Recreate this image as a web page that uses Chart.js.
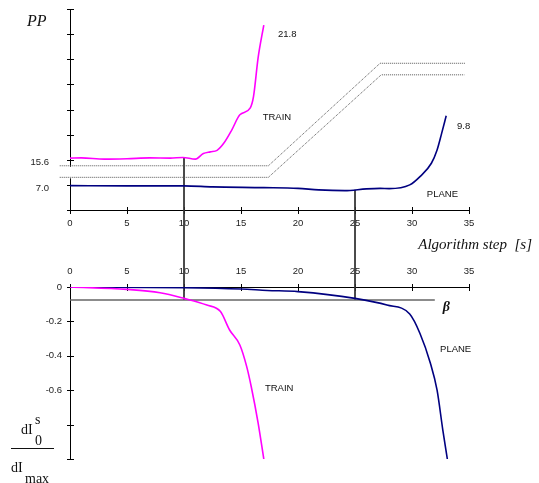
<!DOCTYPE html>
<html>
<head>
<meta charset="utf-8">
<script src="https://cdn.jsdelivr.net/npm/chart.js@4.4.0/dist/chart.umd.min.js"></script>
<style>
  body { margin: 0; background: #fff; }
  #wrap { position: relative; width: 539px; height: 483px; }
  canvas { position: absolute; left: 0; }
</style>
</head>
<body>
<div id="wrap">
  <canvas id="top" width="539" height="235" style="top:0"></canvas>
  <canvas id="bottom" width="539" height="248" style="top:235px"></canvas>
</div>
<script>
// upper panel: PP against algorithm step
const trainStep = [0, 1, 3, 5, 7, 8.8, 9.9, 11, 11.7, 12.3, 12.9, 13.5, 14.2, 14.9, 15.8, 16.1, 16.5, 17];
const trainPP = [15.6, 15.61, 15.55, 15.57, 15.61, 15.6, 15.63, 15.55, 15.81, 15.89, 15.96, 16.3, 16.92, 17.62, 17.93, 18.48, 20.27, 21.8];
const planeStep = [0, 5, 10, 12.5, 17, 20, 21.8, 24.1, 26, 27.2, 28, 29.8, 30.7, 31.7, 32.2, 32.6, 33];
const planePP = [6.97, 6.96, 6.96, 6.92, 6.89, 6.86, 6.8, 6.77, 6.84, 6.86, 6.85, 7.0, 7.33, 7.86, 8.39, 9.05, 9.75];
const ppTickLabels = { 7: '7.0', 8: '15.6' };

// broken axis marks (dotted)
const breakHighStep = [-0.9, 17.4, 27.2, 34.7];
const breakHigh = [7.76, 7.76, 11.84, 11.84];
const breakLowStep = [-0.9, 17.4, 27.3, 34.6];
const breakLow = [7.3, 7.3, 11.38, 11.38];

// lower panel: dI0s / dImax
const trainDIStep = [0, 5, 7.9, 10, 12, 13.2, 14, 14.9, 15.5, 15.9, 16.5, 17];
const trainDI = [0, -0.014, -0.033, -0.066, -0.105, -0.143, -0.25, -0.337, -0.463, -0.58, -0.79, -1.0];
const planeDIStep = [0, 10, 15, 17.3, 20, 25, 27.8, 29.8, 30.7, 31.6, 32.2, 32.7, 33.1];
const planeDI = [0, -0.004, -0.012, -0.02, -0.027, -0.066, -0.105, -0.157, -0.27, -0.44, -0.6, -0.83, -1.0];
const beta = -0.075;
const betaEnd = 32;
const diTickLabels = ['0', '-0.2', '-0.4', '-0.6'];

// instants linked across both panels
const markSteps = [10, 25];
const markPP = [15.65, 6.8];
const markAxis = ['yT', 'y'];

const pts = (xs, ys) => xs.map((x, i) => ({ x: x, y: ys[i] }));

Chart.defaults.font.family = '"Liberation Sans", Arial, sans-serif';
Chart.defaults.font.size = 9.5;
Chart.defaults.color = '#222';

const small = '9.5px "Liberation Sans", Arial, sans-serif';

const curve = (data, color, axis) => ({
    data: data, yAxisID: axis, borderColor: color, borderWidth: 1.6,
    pointRadius: 0, fill: false, cubicInterpolationMode: 'monotone'
});
const rule = (data, color, axis, dash, width) => ({
    data: data, yAxisID: axis, borderColor: color, borderWidth: width || 1,
    borderDash: dash || [], pointRadius: 0, fill: false, clip: false, tension: 0
});

// y axis of fixed width, without the extra room chart.js keeps for labels
const fixY = s => { s.width = 70; s.paddingTop = 0; s.paddingBottom = 0; };

const crossTicks = {
    id: 'crossTicks',
    beforeDatasetsDraw(chart) {
        const ctx = chart.ctx;
        const sx = chart.scales.x, sy = chart.scales.y;
        ctx.save();
        ctx.strokeStyle = '#000';
        ctx.lineWidth = 1;
        ctx.beginPath();
        const ay = sx.options.position === 'top' ? sx.bottom : sx.top;
        sx.ticks.forEach(t => {
            const p = Math.round(sx.getPixelForValue(t.value)) + 0.5;
            ctx.moveTo(p, ay - 3); ctx.lineTo(p, ay + 4);
        });
        const ax = sy.right;
        sy.ticks.forEach(t => {
            const p = Math.round(sy.getPixelForValue(t.value)) + 0.5;
            ctx.moveTo(ax - 3, p); ctx.lineTo(ax + 4, p);
        });
        ctx.stroke();
        ctx.restore();
    }
};

const textLabels = (items, extra) => ({
    id: 'textLabels',
    afterDraw(chart) {
        const ctx = chart.ctx;
        ctx.save();
        ctx.fillStyle = '#111';
        ctx.textBaseline = 'middle';
        items.forEach(it => {
            ctx.font = it.font || small;
            ctx.textAlign = it.align || 'left';
            const px = it.axis ? chart.scales.x.getPixelForValue(it.x) : it.x;
            const py = it.axis ? chart.scales[it.axis].getPixelForValue(it.y) : it.y;
            ctx.fillText(it.text, px, py);
        });
        if (extra) extra(ctx);
        ctx.restore();
    }
});

// white gap in the broken y axis
const axisGap = {
    id: 'axisGap',
    beforeDatasetsDraw(chart) {
        const sy = chart.scales.y;
        const ctx = chart.ctx;
        const y1 = sy.getPixelForValue(breakHigh[0]) + 1;
        const y2 = sy.getPixelForValue(breakLow[0]) + 1;
        ctx.save();
        ctx.fillStyle = '#fff';
        ctx.fillRect(sy.right - 3, y1, 6, y2 - y1);
        ctx.restore();
    }
};

new Chart(document.getElementById('top'), {
    type: 'line',
    data: {
        datasets: [
            curve(pts(trainStep, trainPP), '#ff00ff', 'yT'),
            curve(pts(planeStep, planePP), '#000080', 'y'),
            rule(pts(breakHighStep, breakHigh), '#555', 'y', [1, 1]),
            rule(pts(breakLowStep, breakLow), '#555', 'y', [1, 1]),
            rule([{ x: markSteps[0], y: markPP[0] }, { x: markSteps[0], y: 0 }], '#333', markAxis[0]),
            rule([{ x: markSteps[1], y: markPP[1] }, { x: markSteps[1], y: 0 }], '#333', markAxis[1])
        ]
    },
    options: {
        responsive: false,
        animation: false,
        devicePixelRatio: 1,
        layout: { padding: { left: 0, top: 9, right: 70, bottom: 0 } },
        plugins: { legend: { display: false }, tooltip: { enabled: false } },
        scales: {
            x: {
                type: 'linear', position: 'bottom', min: 0, max: 35,
                ticks: { stepSize: 5, padding: 8, autoSkip: false, maxRotation: 0 },
                grid: { display: false, drawTicks: false },
                border: { color: '#000', width: 1 },
                afterFit: s => { s.height = 25; }
            },
            y: {
                type: 'linear', position: 'left', min: 6, max: 14,
                ticks: { stepSize: 1, padding: 21, labelOffset: 3, callback: v => ppTickLabels[v] || '' },
                grid: { display: false, drawTicks: false },
                border: { color: '#000', width: 1 },
                afterFit: fixY
            },
            yT: { type: 'linear', display: false, min: 13.18, max: 22.55 }
        }
    },
    plugins: [crossTicks, axisGap, textLabels([
        { text: '21.8', x: 18.25, y: 13.0, axis: 'y' },
        { text: 'TRAIN', x: 16.9, y: 9.67, axis: 'y' },
        { text: '9.8', x: 33.95, y: 9.31, axis: 'y' },
        { text: 'PLANE', x: 31.3, y: 6.62, axis: 'y' },
        { text: 'PP', x: 27, y: 22, font: 'italic 16px "Liberation Serif", "Times New Roman", serif' }
    ])]
});

const serif = '14px "Liberation Serif", "Times New Roman", serif';

new Chart(document.getElementById('bottom'), {
    type: 'line',
    data: {
        datasets: [
            curve(pts(trainDIStep, trainDI), '#ff00ff', 'y'),
            curve(pts(planeDIStep, planeDI), '#000080', 'y'),
            rule([{ x: 0, y: beta }, { x: betaEnd, y: beta }], '#666', 'y', [], 1.5),
            rule([{ x: markSteps[0], y: 1 }, { x: markSteps[0], y: beta }], '#333', 'y'),
            rule([{ x: markSteps[1], y: 1 }, { x: markSteps[1], y: beta }], '#333', 'y')
        ]
    },
    options: {
        responsive: false,
        animation: false,
        devicePixelRatio: 1,
        layout: { padding: { left: 0, top: 0, right: 70, bottom: 24 } },
        plugins: { legend: { display: false }, tooltip: { enabled: false } },
        scales: {
            x: {
                type: 'linear', position: 'top', min: 0, max: 35,
                ticks: { stepSize: 5, padding: 10, autoSkip: false, maxRotation: 0 },
                grid: { display: false, drawTicks: false },
                border: { color: '#000', width: 1 },
                afterFit: s => { s.height = 52; }
            },
            y: {
                type: 'linear', position: 'left', min: -1, max: 0,
                ticks: {
                    stepSize: 0.2, padding: 8,
                    callback: v => diTickLabels[Math.round(-v * 5)] || ''
                },
                grid: { display: false, drawTicks: false },
                border: { color: '#000', width: 1 },
                afterFit: fixY
            }
        }
    },
    plugins: [crossTicks, textLabels([
        { text: 'TRAIN', x: 17.1, y: -0.587, axis: 'y' },
        { text: 'PLANE', x: 32.46, y: -0.36, axis: 'y' },
        { text: '\u03b2', x: 32.7, y: -0.118, axis: 'y', font: 'bold italic 14px "Liberation Serif", serif' },
        { text: 'Algorithm step  [s]', x: 532, y: 10, align: 'right', font: 'italic 15px "Liberation Serif", "Times New Roman", serif' },
        { text: 'dI', x: 21, y: 195, font: serif },
        { text: 's', x: 35, y: 185, font: serif },
        { text: '0', x: 35, y: 206, font: serif },
        { text: 'dI', x: 11, y: 233, font: serif },
        { text: 'max', x: 25, y: 244, font: serif }
    ], ctx => {
        ctx.strokeStyle = '#111';
        ctx.lineWidth = 1;
        ctx.beginPath();
        ctx.moveTo(11, 213.5);
        ctx.lineTo(54, 213.5);
        ctx.stroke();
    })]
});
</script>
</body>
</html>
